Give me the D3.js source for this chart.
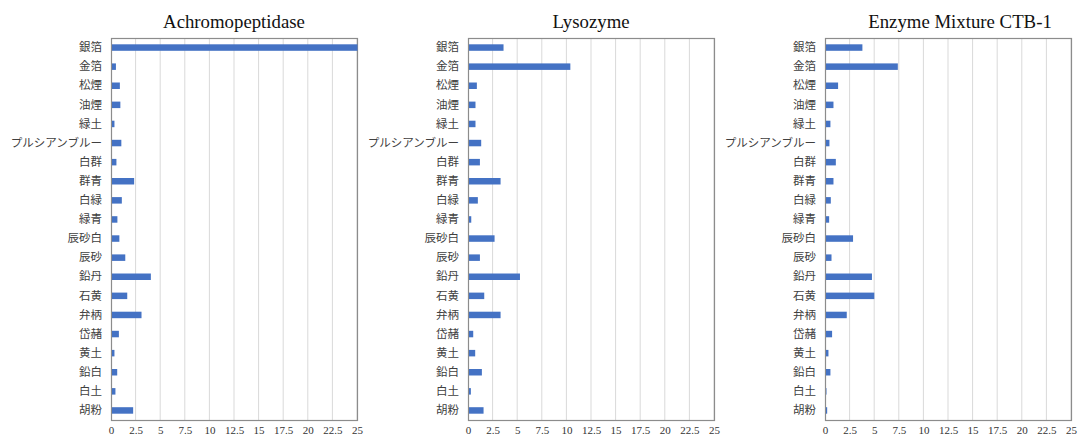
<!DOCTYPE html>
<html>
<head>
<meta charset="utf-8">
<script src="https://cdn.jsdelivr.net/npm/d3@7"></script>
<style>
  body { margin: 0; background: #fff; }
  svg { display: block; }
</style>
</head>
<body>
<svg width="1081" height="437"></svg>
<script>
const pigments = ["銀箔", "金箔", "松煙", "油煙", "緑土", "プルシアンブルー", "白群", "群青", "白緑", "緑青",
  "辰砂白", "辰砂", "鉛丹", "石黄", "弁柄", "岱赭", "黄土", "鉛白", "白土", "胡粉"];

const titles = ["Achromopeptidase", "Lysozyme", "Enzyme Mixture CTB-1"];

const achromo = [25, 0.45, 0.85, 0.9, 0.3, 1.0, 0.5, 2.3, 1.05, 0.6,
  0.8, 1.4, 4.0, 1.6, 3.05, 0.75, 0.3, 0.58, 0.4, 2.2];
const lysozyme = [3.56, 10.35, 0.85, 0.71, 0.71, 1.29, 1.16, 3.26, 0.95, 0.28,
  2.65, 1.16, 5.23, 1.6, 3.26, 0.48, 0.68, 1.36, 0.24, 1.53];
const ctb1 = [3.75, 7.35, 1.28, 0.81, 0.5, 0.4, 1.05, 0.81, 0.54, 0.37,
  2.8, 0.61, 4.72, 4.96, 2.16, 0.67, 0.3, 0.5, 0.1, 0.17];

const ticks = [0, 2.5, 5, 7.5, 10, 12.5, 15, 17.5, 20, 22.5, 25];

const series = [achromo, lysozyme, ctb1];

const svg = d3.select("svg");

// panel placement
const panelLeft = [111, 468, 825];
const titleShift = [0, 0, 12];
const plotW = 246, plotTop = 38, plotBottom = 420;

series.forEach((vals, i) => {
  const g = svg.append("g").attr("transform", `translate(${panelLeft[i]},0)`);

  const x = d3.scaleLinear().domain([0, 25]).range([0, plotW]);
  const y = d3.scaleBand()
    .domain(pigments)
    .range([plotTop, plotBottom])
    .paddingInner(0.66)
    .paddingOuter(0.33);

  // gridlines
  g.selectAll(".grid")
    .data(ticks.slice(1))
    .enter()
    .append("line")
    .attr("x1", (d) => x(d))
    .attr("x2", (d) => x(d))
    .attr("y1", plotTop)
    .attr("y2", plotBottom)
    .attr("stroke", "#d9d9d9")
    .attr("stroke-width", 1);

  // frame
  g.append("rect")
    .attr("x", 0.5)
    .attr("y", plotTop + 0.5)
    .attr("width", plotW)
    .attr("height", plotBottom - plotTop)
    .attr("fill", "none")
    .attr("stroke", "#8c8c8c")
    .attr("stroke-width", 1.2);

  // bars
  g.selectAll(".bar")
    .data(vals)
    .enter()
    .append("rect")
    .attr("x", 1)
    .attr("y", (d, j) => y(pigments[j]))
    .attr("width", (d) => Math.min(x(d), plotW) - 0.5)
    .attr("height", y.bandwidth())
    .attr("fill", "#4472c4");

  // category labels
  const yAxis = d3.axisLeft(y).tickSize(0).tickPadding(9);
  g.append("g")
    .call(yAxis)
    .call((s) => s.select(".domain").remove())
    .selectAll("text")
    .attr("font-family", "'Noto Sans CJK JP', sans-serif")
    .attr("font-size", 11.5)
    .attr("fill", "#404040");

  // x tick labels
  const xAxis = d3.axisBottom(x).tickValues(ticks).tickSize(0).tickPadding(6)
    .tickFormat((d) => String(d));
  g.append("g")
    .attr("transform", `translate(0,${plotBottom})`)
    .call(xAxis)
    .call((s) => s.select(".domain").remove())
    .selectAll("text")
    .attr("font-family", "'Liberation Serif', serif")
    .attr("font-size", 11)
    .attr("fill", "#333");

  // title
  g.append("text")
    .attr("x", plotW / 2 + titleShift[i])
    .attr("y", 28)
    .attr("text-anchor", "middle")
    .attr("font-family", "'Liberation Serif', serif")
    .attr("font-size", 18.8)
    .attr("fill", "#111")
    .text(titles[i]);
});
</script>
</body>
</html>
